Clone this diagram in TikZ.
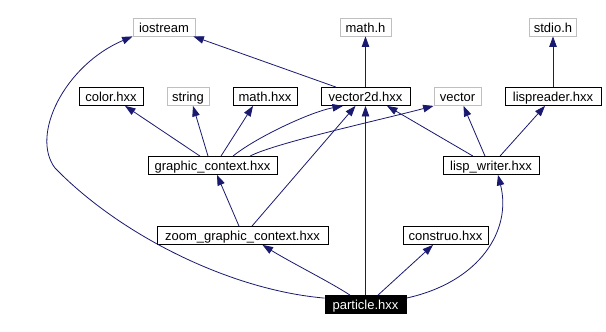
\documentclass[tikz,border=0pt]{standalone}
\usepackage{fontspec}
\setmainfont{Liberation Sans}
\usetikzlibrary{arrows.meta}
\definecolor{edgeblue}{HTML}{191970}
\definecolor{sysgray}{HTML}{BFBFBF}
\tikzset{
  hdr/.style={draw=black, line width=0.8pt, inner sep=0pt, minimum height=18pt,
    text height=10pt, text depth=0pt, font=\fontsize{13}{13}\selectfont},
  sys/.style={hdr, draw=sysgray},
  cur/.style={hdr, fill=black, text=white},
  dep/.style={draw=edgeblue, line width=0.8pt, -{Triangle[length=10.5pt,width=7.5pt]}}
}
\begin{document}
\begin{tikzpicture}[x=1pt,y=-1pt]
				\useasboundingbox (0,0) rectangle (606,332);
				% headers of the system
				\node[sys, minimum width=62pt] (iostream) at (164,27) {iostream};
				\node[sys, minimum width=51pt] (mathh) at (365.5,27) {math.h};
				\node[sys, minimum width=47pt] (stdioh) at (553,27) {stdio.h};
				\node[sys, minimum width=42pt] (stringh) at (188,96.5) {string};
				\node[sys, minimum width=47pt] (vector) at (457.5,96.5) {vector};
				% headers of the project
				\node[hdr, minimum width=64pt] (colorh) at (111,96.5) {color.hxx};
				\node[hdr, minimum width=64pt] (mathhxx) at (265,96.5) {math.hxx};
				\node[hdr, minimum width=89pt] (vecd) at (365.5,96.5) {vector2d.hxx};
				\node[hdr, minimum width=96pt] (lispread) at (553,96.5) {lispreader.hxx};
				\node[hdr, minimum width=129pt] (gctx) at (212.5,165.5) {graphic\_context.hxx};
				\node[hdr, minimum width=96pt] (lispw) at (491,165.5) {lisp\_writer.hxx};
				\node[hdr, minimum width=171pt] (zoomgc) at (242.5,235.5) {zoom\_graphic\_context.hxx};
				\node[hdr, minimum width=85pt] (construo) at (445.5,235.5) {construo.hxx};
				\node[cur, minimum width=81pt] (particle) at (365.5,304.5) {particle.hxx};
				% includes of particle.hxx
				\draw[dep] ([yshift=-3pt]particle.north west) .. controls (230,290) and (120,235) .. (55,168)
					.. controls (30,135) and (65,65) .. (iostream.south west);
				\draw[dep] ([yshift=-3pt]particle.north east) .. controls (480,282) and (512,230) .. ([xshift=7pt]lispw.south);
				\draw[dep] ([xshift=-15.5pt]particle.north) .. controls (330,282) and (290,262) .. ([xshift=20pt]zoomgc.south);
				\draw[dep] ([xshift=12.5pt]particle.north) -- ([xshift=-12.5pt]construo.south);
				\draw[dep] (particle) -- (vecd);
				% includes of the middle rows
				\draw[dep] ([xshift=-3.5pt]zoomgc.north) -- ([xshift=4.5pt]gctx.south);
				\draw[dep] ([xshift=9.5pt]zoomgc.north) -- ([xshift=-10pt]vecd.south);
				\draw[dep] ([xshift=-12.5pt]gctx.north) -- ([xshift=14pt]colorh.south);
				\draw[dep] ([xshift=-4.5pt]gctx.north) -- ([xshift=5pt]stringh.south);
				\draw[dep] ([xshift=8.5pt]gctx.north) -- ([xshift=-12pt]mathhxx.south);
				\draw[dep] ([xshift=20.5pt]gctx.north) .. controls (255,138) and (310,112) .. ([xshift=-22.5pt]vecd.south);
				\draw[dep] ([xshift=37.5pt]gctx.north) .. controls (275,143) and (380,120) .. (vector.south west);
				\draw[dep] ([xshift=-18pt]lispw.north) -- ([xshift=21.5pt]vecd.south);
				\draw[dep] ([xshift=-6pt]lispw.north) -- ([xshift=6pt]vector.south);
				\draw[dep] ([xshift=9pt]lispw.north) -- ([xshift=-8pt]lispread.south);
				% includes of the upper row
				\draw[dep] (lispread) -- (stdioh);
				\draw[dep] (vecd) -- (mathh);
				\draw[dep] ([xshift=-29.5pt]vecd.north) -- ([xshift=-2pt]iostream.south east);
\end{tikzpicture}
\end{document}
